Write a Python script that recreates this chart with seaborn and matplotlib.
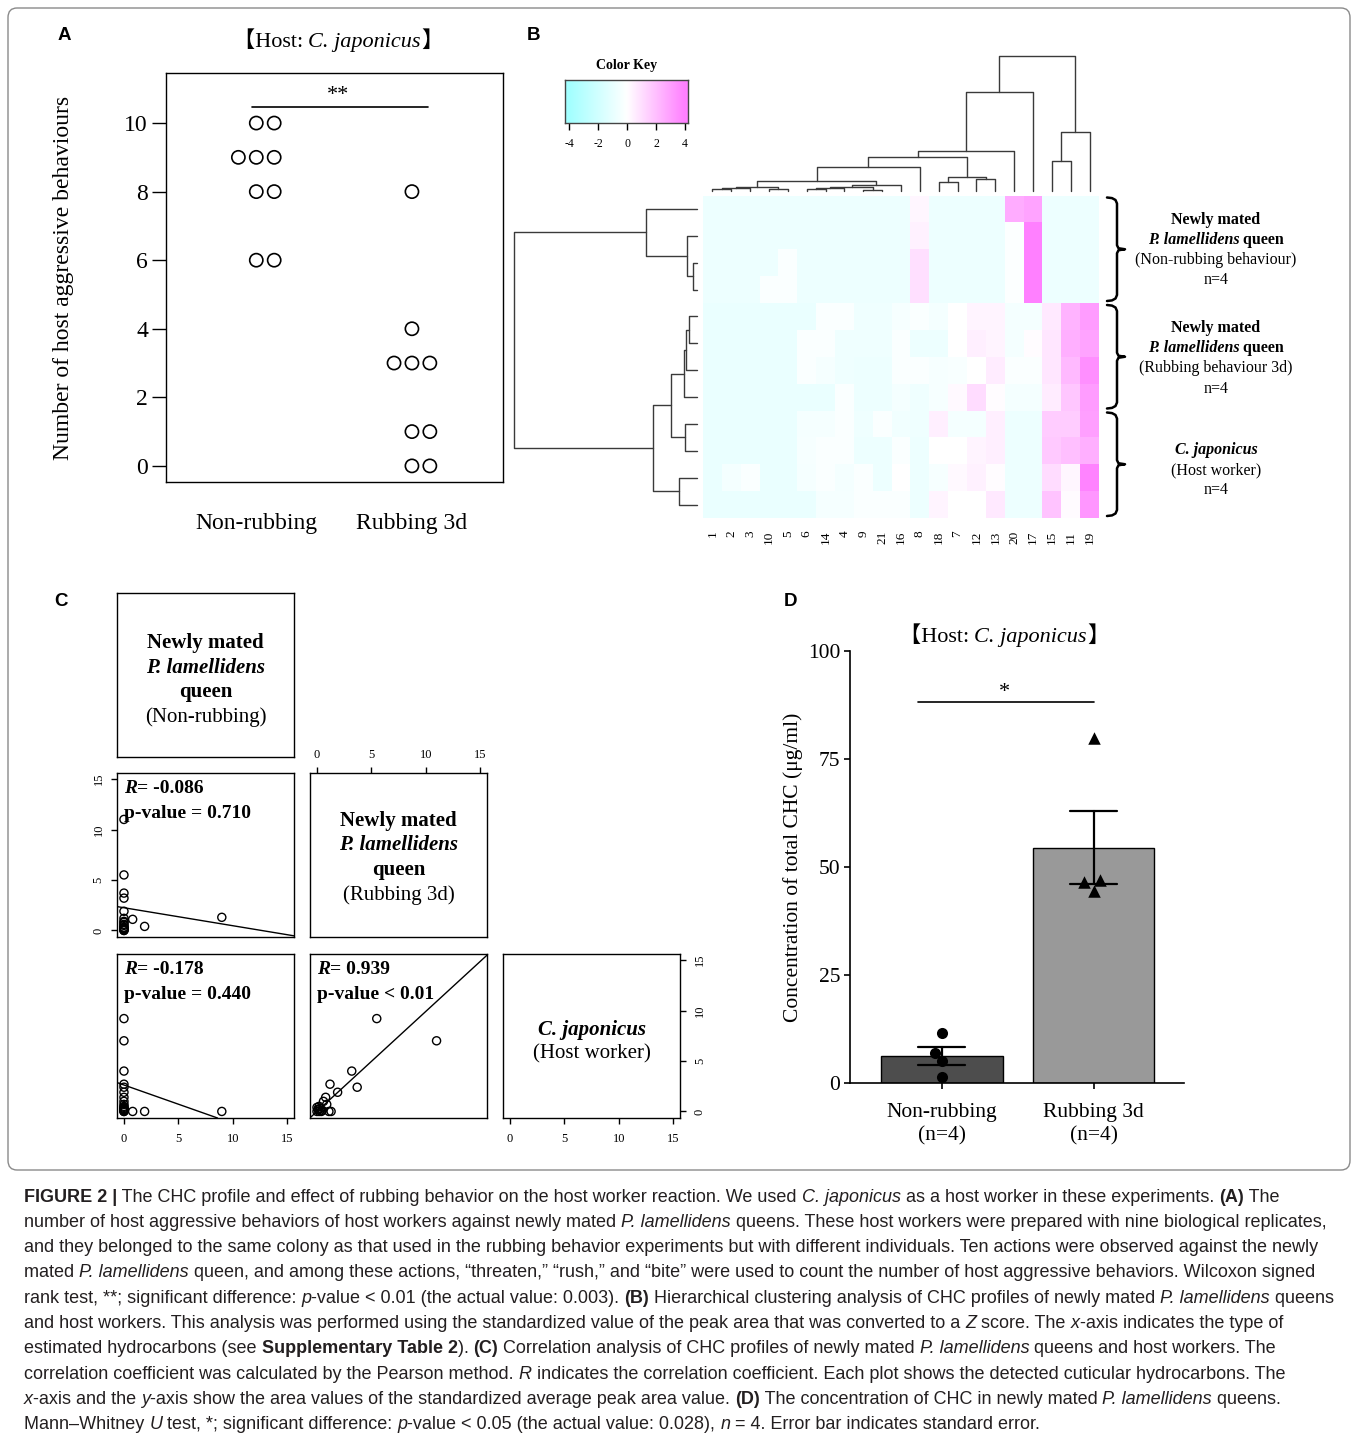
import re
import numpy as np
import pandas as pd
import matplotlib
matplotlib.use("Agg")
import matplotlib.pyplot as plt
import seaborn as sns
from matplotlib.colors import LinearSegmentedColormap
from matplotlib.patches import FancyBboxPatch

# ======================= DATA =======================
# Panel A: number of host aggressive behaviours
groups_A = ["Non-rubbing", "Rubbing 3d"]
aggr_nonrub = [10, 10, 9, 9, 9, 8, 8, 6, 6]
aggr_rub = [8, 4, 3, 3, 3, 1, 1, 0, 0]

# Panel B: heatmap (z scores), columns in dendrogram order
col_labels = ["1", "2", "3", "10", "5", "6", "14", "4", "9", "21", "16",
              "8", "18", "7", "12", "13", "20", "17", "15", "11", "19"]
z_nonrub = [
    [-0.8, -0.8, -0.8, -0.8, -0.8, -0.8, -0.8, -0.8, -0.8, -0.8, -0.8, 0.3, -0.8, -0.8, -0.8, -0.8, 2.6, 2.9, -0.8, -0.8, -0.8],
    [-0.8, -0.8, -0.8, -0.8, -0.8, -0.8, -0.8, -0.8, -0.8, -0.8, -0.8, 0.45, -0.8, -0.8, -0.8, -0.8, -0.1, 4.0, -0.8, -0.8, -0.8],
    [-0.8, -0.8, -0.8, -0.8, -0.2, -0.8, -0.8, -0.8, -0.8, -0.8, -0.8, 1.0, -0.8, -0.8, -0.8, -0.8, -0.15, 4.0, -0.8, -0.8, -0.8],
    [-0.8, -0.8, -0.8, -0.2, -0.2, -0.8, -0.8, -0.8, -0.8, -0.8, -0.8, 1.0, -0.8, -0.8, -0.8, -0.8, -0.15, 4.0, -0.8, -0.8, -0.8],
]
z_rub = [
    [-0.9, -0.9, -0.9, -0.9, -0.9, -0.9, -0.25, -0.25, -0.7, -0.7, -0.4, -0.25, -0.5, 0.0, 0.35, 0.35, -0.5, -0.5, 0.7, 2.4, 3.1],
    [-0.9, -0.9, -0.9, -0.9, -0.9, -0.25, -0.25, -0.7, -0.7, -0.7, -0.25, -0.8, -0.8, 0.0, 0.5, 0.35, -0.5, 0.1, 0.8, 2.5, 2.9],
    [-0.9, -0.9, -0.9, -0.9, -0.9, -0.25, -0.45, -0.7, -0.8, -0.8, -0.25, -0.25, -0.4, -0.3, 0.0, 0.6, -0.2, -0.2, 0.8, 2.2, 3.5],
    [-0.9, -0.9, -0.9, -0.9, -0.9, -0.9, -0.9, -0.25, -0.8, -0.8, -0.5, -0.7, -0.4, 0.2, 1.1, 0.1, -0.5, -0.5, 0.6, 1.8, 3.1],
]
z_host = [
    [-0.9, -0.9, -0.9, -0.9, -0.9, -0.45, -0.45, -0.25, -0.7, -0.25, -0.6, -0.7, 0.5, -0.5, -0.5, 0.5, -0.8, -0.8, 1.6, 1.6, 3.0],
    [-0.9, -0.9, -0.9, -0.9, -0.9, -0.4, -0.25, -0.25, -0.8, -0.8, -0.25, -0.8, 0.0, 0.0, 0.35, 0.5, -0.8, -0.8, 1.7, 2.0, 2.5],
    [-0.9, -0.5, -0.25, -0.9, -0.9, -0.45, -0.25, -0.5, -0.25, -0.8, 0.0, -0.8, -0.4, 0.2, 0.45, 0.1, -0.8, -0.8, 1.1, 0.3, 3.9],
    [-0.9, -0.9, -0.9, -0.9, -0.9, -0.9, -0.45, -0.45, -0.25, -0.25, -0.25, -0.8, 0.35, 0.0, 0.0, 0.7, -0.8, -0.8, 1.9, 0.15, 3.3],
]
# dendrogram merges: (child_a, child_b, height); leaves = display positions
col_links = [(0, 1, 1.5), (21, 2, 2.5), (3, 4, 2.0), (22, 23, 4.0), (5, 6, 1.5),
             (25, 7, 2.5), (8, 9, 1.0), (26, 27, 3.5), (28, 10, 5.5), (24, 29, 9.7),
             (30, 11, 24.0), (12, 13, 9.0), (14, 15, 11.4), (32, 33, 14.0),
             (31, 34, 34.0), (35, 16, 39.7), (36, 17, 98.4), (18, 19, 30.0),
             (38, 20, 59.0), (37, 39, 134.7)]
row_links = [(2, 3, 4.0), (1, 12, 10.0), (0, 13, 51.0), (4, 5, 7.7), (15, 6, 10.7),
             (16, 7, 12.7), (8, 9, 11.7), (17, 18, 25.7), (10, 11, 17.4),
             (19, 20, 43.4), (14, 21, 182.7)]
key_ticks = [-4, -2, 0, 2, 4]

# Panel C: standardized peak areas of 21 compounds
chc_nonrub = [0.0, 0.0, 0.0, 0.0, 0.0, 0.0, 0.0, 0.0, 0.0, 9.0, 0.8, 1.9, 0.0, 0.0, 0.0, 0.0, 0.0, 0.0, 0.0, 0.0, 0.0]
chc_rub = [11.0, 5.5, 3.2, 3.7, 1.2, 1.9, 0.6, 0.9, 0.8, 1.3, 1.1, 0.4, 0.3, 0.2, 0.1, 0.5, 0.0, 0.2, 0.1, 0.3, 0.0]
chc_host = [7.0, 9.2, 4.0, 2.4, 2.7, 1.9, 1.0, 0.7, 1.4, 0.0, 0.0, 0.0, 0.3, 0.5, 0.2, 0.1, 0.4, 0.0, 0.2, 0.1, 0.0]
fit_intercept = [2.25, 2.62, 0.0]
fit_slope = [-0.178, -0.38, 0.99]
r_values = ["= -0.086", "= -0.178", "= 0.939"]
p_values = ["p-value = 0.710", "p-value = 0.440", "p-value < 0.01"]
pair_ticks = [0, 5, 10, 15]

# Panel D: concentration of total CHC
groups_D = ["Non-rubbing\n(n=4)", "Rubbing 3d\n(n=4)"]
conc_nonrub = [11.6, 7.0, 5.0, 1.5]
conc_rub = [79.8, 44.5, 47.0, 46.5]

caption_lines = [
    "<b>FIGURE 2 |</b> The CHC profile and effect of rubbing behavior on the host worker reaction. We used <i>C. japonicus</i> as a host worker in these experiments. <b>(A)</b> The",
    "number of host aggressive behaviors of host workers against newly mated <i>P. lamellidens</i> queens. These host workers were prepared with nine biological replicates,",
    "and they belonged to the same colony as that used in the rubbing behavior experiments but with different individuals. Ten actions were observed against the newly",
    "mated <i>P. lamellidens</i> queen, and among these actions, \u201cthreaten,\u201d \u201crush,\u201d and \u201cbite\u201d were used to count the number of host aggressive behaviors. Wilcoxon signed",
    "rank test, **; significant difference: <i>p</i>-value < 0.01 (the actual value: 0.003). <b>(B)</b> Hierarchical clustering analysis of CHC profiles of newly mated <i>P. lamellidens</i> queens",
    "and host workers. This analysis was performed using the standardized value of the peak area that was converted to a <i>Z</i> score. The <i>x</i>-axis indicates the type of",
    "estimated hydrocarbons (see <b>Supplementary Table 2</b>). <b>(C)</b> Correlation analysis of CHC profiles of newly mated <i>P. lamellidens</i> queens and host workers. The",
    "correlation coefficient was calculated by the Pearson method. <i>R</i> indicates the correlation coefficient. Each plot shows the detected cuticular hydrocarbons. The",
    "<i>x</i>-axis and the <i>y</i>-axis show the area values of the standardized average peak area value. <b>(D)</b> The concentration of CHC in newly mated <i>P. lamellidens</i> queens.",
    "Mann\u2013Whitney <i>U</i> test, *; significant difference: <i>p</i>-value < 0.05 (the actual value: 0.028), <i>n</i> = 4. Error bar indicates standard error.",
]

# ======================= SETUP =======================
W, H = 1358, 1440
sns.set_style("ticks")
SERIF = ["Liberation Serif", "Noto Sans CJK JP", "DejaVu Sans"]
SANS = ["Liberation Sans", "DejaVu Sans"]
plt.rcParams.update({
    "font.family": SERIF,
    "axes.unicode_minus": False,
    "axes.edgecolor": "black",
    "axes.linewidth": 1.0,
    "xtick.color": "black", "ytick.color": "black",
    "text.color": "black", "axes.labelcolor": "black",
    "xtick.direction": "out", "ytick.direction": "out",
})

fig = plt.figure(figsize=(W / 100, H / 100), dpi=100)
fig.patch.set_facecolor("white")
REN = fig.canvas.get_renderer()


def rect(l, t, r, b):
    return [l / W, 1 - b / H, (r - l) / W, (b - t) / H]


def ftext(x, y, s, **kw):
    return fig.text(x / W, 1 - y / H, s, **kw)


def seg_width(s, kw):
    t = fig.text(0, 0, s + "|", **kw)
    w1 = t.get_window_extent(REN).width
    t.set_text("|")
    w2 = t.get_window_extent(REN).width
    t.remove()
    return w1 - w2


def rich(x, y, segs, size, family=SERIF, ha="left", va="baseline", color="black"):
    kws = [dict(fontsize=size, family=family, fontweight=wt, fontstyle=st) for _, wt, st in segs]
    widths = [seg_width(s, kw) for (s, _, _), kw in zip(segs, kws)]
    x0 = x - sum(widths) / 2 if ha == "center" else x
    for (s, _, _), kw, w in zip(segs, kws, widths):
        ftext(x0, y, s, ha="left", va=va, color=color, **kw)
        x0 += w


def parse(line):
    segs, bold, ital = [], False, False
    for tok in re.split(r"(</?[bi]>)", line):
        if tok == "<b>":
            bold = True
        elif tok == "</b>":
            bold = False
        elif tok == "<i>":
            ital = True
        elif tok == "</i>":
            ital = False
        elif tok:
            segs.append((tok, "bold" if bold else "normal", "italic" if ital else "normal"))
    return segs


def dendro_segments(n, links):
    pos = {i: i + 0.5 for i in range(n)}
    hgt = {i: 0.0 for i in range(n)}
    out = []
    for k, (a, b, h) in enumerate(links):
        out.append(([pos[a], pos[a], pos[b], pos[b]], [hgt[a], h, h, hgt[b]]))
        pos[n + k] = (pos[a] + pos[b]) / 2
        hgt[n + k] = h
    return out


# outer border
fig.patches.append(FancyBboxPatch((8 / W, 1 - 1170 / H), 1342 / W, 1162 / H,
                                  boxstyle=f"round,pad=0,rounding_size={9 / W}",
                                  transform=fig.transFigure, fill=False,
                                  edgecolor="#8a8a8a", linewidth=1.0))

# panel letters
for letter, (lx, ly) in zip("ABCD", [(64, 35), (533, 35), (61, 601), (790, 601)]):
    ftext(lx, ly, letter, family=SANS, fontweight="bold", fontsize=13.5, ha="center", va="center")

# ======================= PANEL A =======================
axA = fig.add_axes(rect(166, 73, 503, 482))
xa, ya = [], []
for gi, vals in enumerate([aggr_nonrub, aggr_rub]):
    counts = pd.Series(vals).value_counts()
    seen = {}
    for v in vals:
        k = seen.get(v, 0)
        seen[v] = k + 1
        xa.append(gi + 1 + (k - (counts[v] - 1) // 2) * 0.115)
        ya.append(v)
sns.scatterplot(x=xa, y=ya, ax=axA, s=90, color="black", legend=False)
ptsA = axA.collections[-1]
ptsA.set_facecolor("none")
ptsA.set_edgecolor("black")
ptsA.set_linewidth(1.2)
axA.set_xlim(0.42, 2.585)
axA.set_ylim(-0.47, 11.46)
axA.set_xticks([1, 2])
axA.set_xticklabels(groups_A)
axA.set_yticks([0, 2, 4, 6, 8, 10])
axA.tick_params(axis="x", length=0, pad=22, labelsize=17)
axA.tick_params(axis="y", length=10, width=1, labelsize=17, pad=3)
for sp in axA.spines.values():
    sp.set_visible(True)
    sp.set_linewidth(1.0)
axA.set_ylabel("Number of host aggressive behaviours", fontsize=17)
axA.yaxis.set_label_coords(-0.272, 0.5)
axA.plot([0.974, 2.10], [10.46, 10.46], color="black", lw=1.2)
ftext(338, 100, "**", ha="center", va="baseline", fontsize=16)
rich(338, 47, [("\u3010Host: ", "normal", "normal"), ("C. japonicus", "normal", "italic"),
               ("\u3011", "normal", "normal")], size=16, ha="center")

# ======================= PANEL B =======================
cmap = LinearSegmentedColormap.from_list("ck", ["#a3ffff", "#ffffff", "#ff80ff"])
Z = np.array(z_nonrub + z_rub + z_host)
nrow, ncol = Z.shape
HM_L, HM_T, HM_R, HM_B = 703, 195.5, 1099, 518
axHM = fig.add_axes(rect(HM_L, HM_T, HM_R, HM_B))
sns.heatmap(Z, ax=axHM, cmap=cmap, vmin=-4, vmax=4, cbar=False,
            xticklabels=col_labels, yticklabels=False)
axHM.tick_params(axis="x", length=0, pad=9, labelsize=9.5)
plt.setp(axHM.get_xticklabels(), rotation=90, ha="center", va="top")

# column dendrogram
axCD = fig.add_axes(rect(HM_L, 56, HM_R, 190.7))
for xs, ys in dendro_segments(ncol, col_links):
    axCD.plot(xs, ys, color="#3a3a3a", lw=1.0, clip_on=False)
axCD.set_xlim(0, ncol)
axCD.set_ylim(0, max(h for _, _, h in col_links))
axCD.axis("off")

# row dendrogram
axRD = fig.add_axes(rect(514, HM_T, 696.7, HM_B))
for xs, ys in dendro_segments(nrow, row_links):
    axRD.plot(ys, xs, color="#3a3a3a", lw=1.0, clip_on=False)
axRD.set_xlim(max(h for _, _, h in row_links), 0)
axRD.set_ylim(nrow, 0)
axRD.axis("off")

# colour key
axK = fig.add_axes(rect(565, 80, 688, 123))
axK.imshow(np.linspace(-4.28, 4.21, 400)[None, :], cmap=cmap, vmin=-4, vmax=4,
           aspect="auto", extent=(-4.28, 4.21, 0, 1))
axK.set_xlim(-4.28, 4.21)
axK.set_xticks(key_ticks)
axK.set_yticks([])
axK.tick_params(axis="x", length=5, width=1, labelsize=8.5, pad=6)
for sp in axK.spines.values():
    sp.set_linewidth(1.0)
    sp.set_color("#444444")
ftext(627, 66, "Color Key", fontweight="bold", fontsize=10, ha="center", va="center")

# braces + group labels
row_h = (HM_B - HM_T) / nrow
for g in range(3):
    t = HM_T + 4 * g * row_h + 2
    b = HM_T + 4 * (g + 1) * row_h - 2
    m = (t + b) / 2
    bx = [1107, 1112, 1115.5, 1117, 1117, 1118.5, 1125, 1118.5, 1117, 1117, 1115.5, 1112, 1107]
    by = [t, t + 0.6, t + 2.5, t + 6, m - 4, m - 1, m, m + 1, m + 4, b - 6, b - 2.5, b - 0.6, b]
    fig.add_artist(plt.Line2D([v / W for v in bx], [1 - v / H for v in by],
                              color="black", lw=1.8, transform=fig.transFigure))

LB = 11.5
for y0, cond in [(220, "(Non-rubbing behaviour)"), (328.5, "(Rubbing behaviour 3d)")]:
    ftext(1216, y0, "Newly mated", fontweight="bold", fontsize=LB, ha="center", va="center")
    rich(1216, y0 + 19.5, [("P. lamellidens", "bold", "italic"), (" queen", "bold", "normal")],
         size=LB, ha="center", va="center")
    ftext(1216, y0 + 40, cond, fontsize=LB, ha="center", va="center")
    ftext(1216, y0 + 60.5, "n=4", fontsize=LB, ha="center", va="center")
ftext(1216, 450, "C. japonicus", fontweight="bold", fontstyle="italic", fontsize=LB, ha="center", va="center")
ftext(1216, 470, "(Host worker)", fontsize=LB, ha="center", va="center")
ftext(1216, 490, "n=4", fontsize=LB, ha="center", va="center")

# ======================= PANEL C =======================
pc_boxes = {
    "d1": (117, 593, 294, 757), "l21": (117, 773, 294, 937), "d2": (310, 773, 487, 937),
    "l31": (117, 954, 294, 1118), "l32": (310, 954, 487, 1118), "d3": (503, 954, 680, 1118),
}
pax = {}
for key, bb in pc_boxes.items():
    ax = fig.add_axes(rect(*bb))
    ax.set_xlim(-0.64, 15.64)
    ax.set_ylim(-0.65, 15.6)
    ax.set_xticks([])
    ax.set_yticks([])
    for sp in ax.spines.values():
        sp.set_visible(True)
        sp.set_linewidth(1.0)
        sp.set_color("black")
    pax[key] = ax

TK = dict(length=4, width=1, labelsize=9)
ax = pax["d2"]
ax.set_xticks(pair_ticks)
ax.xaxis.tick_top()
ax.tick_params(axis="x", top=True, bottom=False, labeltop=True, labelbottom=False, pad=5, **TK)
ax = pax["l21"]
ax.set_yticks(pair_ticks)
ax.tick_params(axis="y", left=True, labelleft=True, pad=5, **TK)
plt.setp(ax.get_yticklabels(), rotation=90, ha="right", va="center")
ax = pax["l31"]
ax.set_xticks(pair_ticks)
ax.tick_params(axis="x", bottom=True, labelbottom=True, pad=7, **TK)
ax = pax["d3"]
ax.set_xticks(pair_ticks)
ax.tick_params(axis="x", bottom=True, labelbottom=True, pad=7, **TK)
ax.set_yticks(pair_ticks)
ax.yaxis.tick_right()
ax.tick_params(axis="y", right=True, left=False, labelright=True, labelleft=False, pad=6, **TK)
plt.setp(ax.get_yticklabels(), rotation=90, ha="left", va="center")

pairs = [("l21", chc_nonrub, chc_rub), ("l31", chc_nonrub, chc_host), ("l32", chc_rub, chc_host)]
for i, (key, xv, yv) in enumerate(pairs):
    ax = pax[key]
    sns.scatterplot(x=xv, y=yv, ax=ax, s=34, color="black", legend=False)
    pc = ax.collections[-1]
    pc.set_facecolor("none")
    pc.set_edgecolor("black")
    pc.set_linewidth(1.0)
    ax.axline((0, fit_intercept[i]), slope=fit_slope[i], color="black", lw=1.0)
    ax.set_xlim(-0.64, 15.64)
    ax.set_ylim(-0.65, 15.6)

CF = 14
for (tx, ty), rv, pv in zip([(124, 793), (124, 974), (317, 974)], r_values, p_values):
    rich(tx, ty, [("R", "bold", "italic"), (rv, "bold", "normal")], size=CF)
    ftext(tx, ty + 25, pv, fontweight="bold", fontsize=CF, va="baseline")

DF = 15
for cx, y0, cond in [(205.5, 643, "(Non-rubbing)"), (398.5, 821, "(Rubbing 3d)")]:
    ftext(cx, y0, "Newly mated", fontweight="bold", fontsize=DF, ha="center", va="center")
    ftext(cx, y0 + 24.5, "P. lamellidens", fontweight="bold", fontstyle="italic", fontsize=DF, ha="center", va="center")
    ftext(cx, y0 + 49, "queen", fontweight="bold", fontsize=DF, ha="center", va="center")
    ftext(cx, y0 + 74, cond, fontsize=DF, ha="center", va="center")
ftext(591.5, 1030, "C. japonicus", fontweight="bold", fontstyle="italic", fontsize=DF, ha="center", va="center")
ftext(591.5, 1054, "(Host worker)", fontsize=DF, ha="center", va="center")

# ======================= PANEL D =======================
axD = fig.add_axes(rect(850, 651, 1184, 1083))
dfD = pd.DataFrame({
    "group": [groups_D[0]] * len(conc_nonrub) + [groups_D[1]] * len(conc_rub),
    "conc": conc_nonrub + conc_rub,
})
sns.barplot(data=dfD, x="group", y="conc", hue="group", order=groups_D, hue_order=groups_D,
            palette=["#4d4d4d", "#999999"], legend=False, errorbar="se", capsize=0.31,
            err_kws={"color": "black", "linewidth": 1.6}, edgecolor="black", linewidth=1.0,
            width=0.8, ax=axD)
sns.swarmplot(data=dfD[dfD["group"] == groups_D[0]], x="group", y="conc", order=groups_D,
              color="black", marker="o", size=8, ax=axD)
sns.swarmplot(data=dfD[dfD["group"] == groups_D[1]], x="group", y="conc", order=groups_D,
              color="black", marker="^", size=9, ax=axD)
axD.set_xlim(-0.607, 1.597)
axD.set_ylim(0, 100)
axD.set_yticks([0, 25, 50, 75, 100])
sns.despine(ax=axD)
axD.spines["left"].set_linewidth(1.2)
axD.spines["bottom"].set_linewidth(1.2)
axD.tick_params(axis="both", length=4.5, width=1.2, labelsize=15.5)
axD.tick_params(axis="y", pad=2.5)
axD.tick_params(axis="x", pad=10)
for t in axD.get_xticklabels():
    t.set_linespacing(1.3)
axD.set_xlabel("")
axD.set_ylabel("Concentration of total CHC (\u03bcg/ml)", fontsize=15.5)
axD.yaxis.set_label_coords(-0.141, 0.5)
axD.plot([-0.158, 1.0], [88.2, 88.2], color="black", lw=1.2, clip_on=False)
ftext(1004, 697, "*", ha="center", va="baseline", fontsize=16)
rich(1004, 642, [("\u3010Host: ", "normal", "normal"), ("C. japonicus", "normal", "italic"),
                 ("\u3011", "normal", "normal")], size=16, ha="center")

# ======================= CAPTION =======================
for i, line in enumerate(caption_lines):
    rich(24, 1201.5 + 25.3 * i, parse(line), size=13.0, family=SANS, color="#231f20")

fig.savefig("out.png", dpi=100, facecolor="white")
